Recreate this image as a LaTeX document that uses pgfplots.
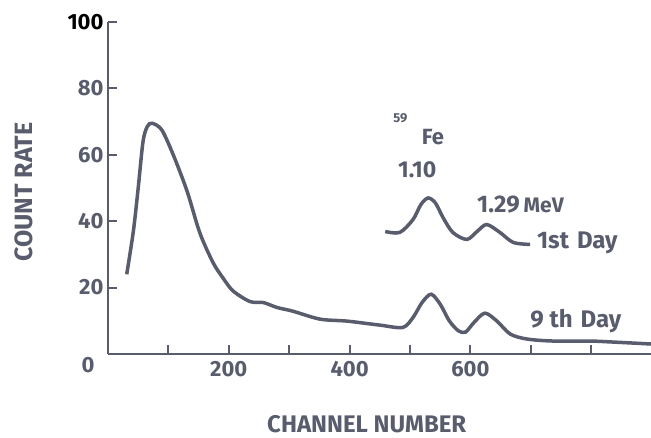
\documentclass[border=0pt]{standalone}
\usepackage{fontspec}
\setmainfont{Fira Sans}
\usepackage{pgfplots}
\pgfplotsset{compat=1.18}
\definecolor{ink}{RGB}{88,92,108}
\begin{document}
\begin{tikzpicture}
\path[use as bounding box] (0pt,0pt) rectangle (651pt,438pt);
\begin{axis}[
  at={(108pt,84pt)}, anchor=south west,
  scale only axis, width=543.6pt, height=332pt,
  xmin=0, xmax=900, ymin=0, ymax=100,
  axis x line=bottom, axis y line=left,
  axis line style={-, line width=2pt, ink},
  xtick={100,200,...,800},
  xticklabels={,200,,400,,600,,},
  ytick={20,40,60,80,100},
  yticklabels={20,40,60,80,{\color{black}100}},
  tick align=inside,
  major tick length=9pt,
  tick style={line width=2pt, ink},
  /pgf/number format/assume math mode=true,
  ticklabel style={font=\bfseries\fontsize{22}{24}\selectfont, text=ink},
  xticklabel style={yshift=-4pt},
  yticklabel style={xshift=-1pt},
  xlabel={CHANNEL NUMBER},
  ylabel={COUNT RATE},
  label style={font=\bfseries\fontsize{24}{26}\selectfont, text=ink},
  xlabel style={at={(rel axis cs:0.476,-0.212)}, anchor=center, inner sep=1pt},
  ylabel style={at={(rel axis cs:-0.155,0.488)}, anchor=center, font=\bfseries\fontsize{25}{27}\selectfont},
  clip=false,
]
\addplot[ink, line width=3.5pt, smooth, tension=0.5] coordinates {
(31,24) (42,37) (50,50) (58,64) (65,68.5) (73,69.5) (89,67.5) (108,60)
(131,49) (152,36.5) (174,27.5) (190,23) (207,19) (235,15.8) (257,15.5)
(280,14) (306,12.9) (351,10.5) (396,9.9) (450,8.7) (488,8) (505,11)
(520,15.5) (535,18) (550,15) (565,10) (580,7) (592,6.6) (606,9.5)
(624,12.3) (644,9.9) (666,6) (694,4.5) (737,3.9) (798,3.9) (836,3.6) (900,3)
};
\addplot[ink, line width=3.5pt, smooth, tension=0.5] coordinates {
(459,36.9) (483,36.6) (505,40.5) (518,45) (530,47) (542,45.5) (555,41)
(571,36.6) (594,34.5) (611,36.9) (627,39) (649,36.6) (671,33.6) (699,33)
};
\node[text=ink, font=\bfseries\fontsize{22}{24}\selectfont] at (axis cs:0,0) [xshift=-20pt, yshift=-11pt] {0};
\node[text=ink, font=\bfseries\fontsize{13}{14}\selectfont] at (axis cs:484,71) {59};
\node[text=ink, font=\bfseries\fontsize{22}{24}\selectfont] at (axis cs:538,65.4) {Fe};
\node[text=ink, font=\bfseries\fontsize{23}{25}\selectfont] at (axis cs:512,55.4) {1.10};
\node[text=ink, font=\bfseries\fontsize{24}{26}\selectfont, anchor=west, inner sep=0pt] at (axis cs:611,45) {1.29\,{\fontsize{21}{23}\selectfont MeV}};
\node[text=ink, font=\bfseries\fontsize{24}{26}\selectfont, anchor=west, inner sep=0pt] at (axis cs:710,33.4) {1st\hspace{8pt}Day};
\node[text=ink, font=\bfseries\fontsize{24}{26}\selectfont, anchor=west, inner sep=0pt] at (axis cs:699,9.9) {9 th\hspace{8pt}Day};
\end{axis}
\end{tikzpicture}
\end{document}
